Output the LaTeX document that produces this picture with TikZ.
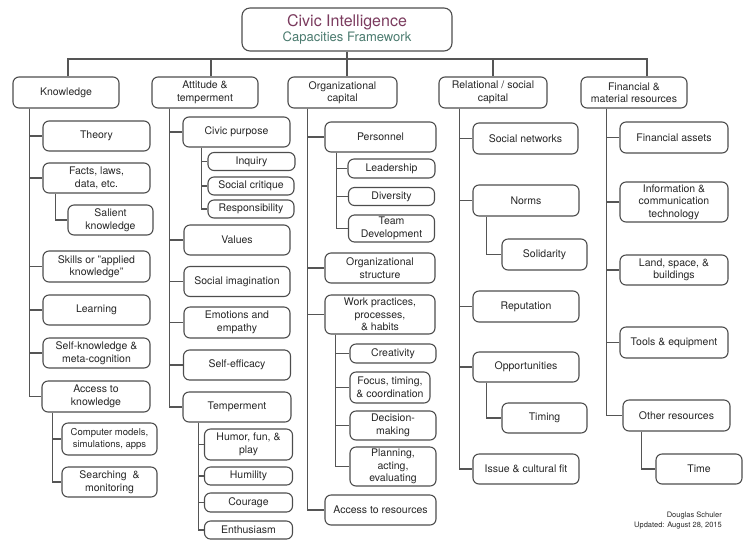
\documentclass[tikz,border=0pt]{standalone}
\usepackage{fontspec}
\setmainfont{TeX Gyre Heros}
\usepackage{tikz}
\definecolor{civicred}{HTML}{7B3B5E}
\definecolor{civicgreen}{HTML}{4A7A6E}
\definecolor{boxgray}{HTML}{4D4D4D}
\definecolor{linegray}{HTML}{555555}
\definecolor{txtgray}{HTML}{262626}
\tikzset{box/.style={draw=boxgray, line width=1.1pt, rounded corners=6pt, align=center,
  inner sep=1pt, text=txtgray, font=\fontsize{10.5}{12.5}\selectfont,
  minimum width=106, minimum height=30}}
\tikzset{small/.style={box, minimum width=86, minimum height=18}}
\tikzset{link/.style={draw=linegray, line width=1.1pt}}

\begin{document}
\begin{tikzpicture}[x=1pt, y=-1pt]
    \useasboundingbox (0,0) rectangle (746,542);
    % title and top row
    \node[box, minimum width=210, minimum height=43, rounded corners=8pt](title) at (347,29.5)
        {{\fontsize{16}{18}\selectfont\color{civicred}Civic Intelligence}\\
         {\fontsize{13}{16}\selectfont\color{civicgreen}Capacities Framework}};
    \node[box, minimum height=31](know) at (66,92.5){Knowledge};
    \node[box, minimum height=31](att) at (205,92.5){Attitude \&\\temperment};
    \node[box, minimum width=109, minimum height=31](org) at (342.5,92.5){Organizational\\capital};
    \node[box, minimum width=108, minimum height=31](rel) at (493,92.5){Relational / social\\capital};
    \node[box, minimum height=31](fin) at (634,92.5){Financial \&\\material resources};
    \coordinate (bus) at (347,59);
    \draw[link](title.south)--(title.south |- org.north);
    \draw[link]([xshift=2]know.north)|-(bus);
    \draw[link]([xshift=6]att.north)|-(bus);
    \draw[link](rel.north)|-(bus);
    \draw[link]([xshift=13]fin.north)|-(bus);

    % knowledge
    \node[box, minimum width=107](theory) at (96.5,136){Theory};
    \node[box, minimum width=107](facts) at (96.5,178){Facts, laws,\\data, etc.};
    \node[box, minimum width=85](salient) at (110.5,220){Salient\\knowledge};
    \node[box, minimum width=107, minimum height=31](skills) at (96.5,266.5){Skills or "applied\\knowledge"};
    \node[box, minimum width=107](learning) at (96.5,310){Learning};
    \node[box, minimum width=107](selfk) at (96.5,353){Self-knowledge \&\\meta-cognition};
    \node[box, minimum width=108, minimum height=31](access) at (96,396.5){Access to\\knowledge};
    \node[box, minimum width=95, minimum height=32, font=\fontsize{9.5}{11.5}\selectfont](models) at (109.5,439)
        {Computer models,\\simulations, apps};
    \node[box, minimum width=95](search) at (109.5,482){Searching \ \&\\monitoring};
    \draw[link]([xshift=17]know.south west)|-(theory.west);
    \draw[link]([xshift=17]know.south west)|-(facts.west);
    \draw[link]([xshift=17]know.south west)|-(skills.west);
    \draw[link]([xshift=17]know.south west)|-(learning.west);
    \draw[link]([xshift=17]know.south west)|-(selfk.west);
    \draw[link]([xshift=17]know.south west)|-(access.west);
    \draw[link]([xshift=13]facts.south west)|-(salient.west);
    \draw[link]([xshift=11]access.south west)|-(models.west);
    \draw[link]([xshift=11]access.south west)|-(search.west);

    % attitude
    \node[box, minimum width=107](civic) at (236.5,132){Civic purpose};
    \node[small, minimum width=87](inquiry) at (251.5,161.5){Inquiry};
    \node[small](critique) at (251,186){Social critique};
    \node[small](respons) at (251,209){Responsibility};
    \node[box](values) at (237,240){Values};
    \node[box](imag) at (237,281.5){Social imagination};
    \node[box, minimum height=31](emotions) at (237,322.5){Emotions and\\empathy};
    \node[box, minimum width=107](efficacy) at (237,365){Self-efficacy};
    \node[box, minimum width=108](temper) at (237,407){Temperment};
    \node[box, minimum width=88, minimum height=31](humor) at (248.5,444.5){Humor, fun, \&\\play};
    \node[small, minimum width=88](humility) at (248.5,476){Humility};
    \node[small, minimum width=88, minimum height=19](courage) at (248.5,502.5){Courage};
    \node[small, minimum width=88](enthus) at (248.5,530){Enthusiasm};
    \draw[link]([xshift=18]att.south west)|-(civic.west);
    \draw[link]([xshift=18]att.south west)|-(values.west);
    \draw[link]([xshift=18]att.south west)|-(imag.west);
    \draw[link]([xshift=18]att.south west)|-(emotions.west);
    \draw[link]([xshift=18]att.south west)|-(efficacy.west);
    \draw[link]([xshift=18]att.south west)|-(temper.west);
    \draw[link]([xshift=19]civic.south west)|-(inquiry.west);
    \draw[link]([xshift=19]civic.south west)|-(critique.west);
    \draw[link]([xshift=19]civic.south west)|-(respons.west);
    \draw[link]([xshift=16]temper.south west)|-(humor.west);
    \draw[link]([xshift=16]temper.south west)|-(humility.west);
    \draw[link]([xshift=16]temper.south west)|-(courage.west);
    \draw[link]([xshift=16]temper.south west)|-(enthus.west);

    % organizational capital
    \node[box, minimum width=111](personnel) at (380.5,137){Personnel};
    \node[small, minimum width=87, minimum height=19](leader) at (391.5,168.5){Leadership};
    \node[small](diversity) at (391.5,196.5){Diversity};
    \node[small, minimum height=27](team) at (391.5,228.5){Team\\Development};
    \node[box, minimum width=110](orgstruct) at (380,268){Organizational\\structure};
    \node[box, minimum width=110, minimum height=39](work) at (380,314.5){Work practices,\\processes,\\\& habits};
    \node[small, minimum height=19](creat) at (393,353.5){Creativity};
    \node[small, minimum width=80, minimum height=31](focus) at (390,387.5){Focus, timing,\\\& coordination};
    \node[small, minimum height=29](decision) at (393,425.5){Decision-\\making};
    \node[small, minimum height=39](planning) at (393,466.5){Planning,\\acting,\\evaluating};
    \node[box, minimum width=111](accres) at (380.5,510){Access to resources};
    \draw[link]([xshift=20]org.south west)|-(personnel.west);
    \draw[link]([xshift=20]org.south west)|-(orgstruct.west);
    \draw[link]([xshift=20]org.south west)|-(work.west);
    \draw[link]([xshift=20]org.south west)|-(accres.west);
    \draw[link]([xshift=12]personnel.south west)|-(leader.west);
    \draw[link]([xshift=12]personnel.south west)|-(diversity.west);
    \draw[link]([xshift=12]personnel.south west)|-(team.west);
    \draw[link]([xshift=11]work.south west)|-(creat.west);
    \draw[link]([xshift=11]work.south west)|-(focus.west);
    \draw[link]([xshift=11]work.south west)|-(decision.west);
    \draw[link]([xshift=11]work.south west)|-(planning.west);

    % relational / social capital
    \node[box, minimum width=105, minimum height=31](socnet) at (525.5,138.5){Social networks};
    \node[box, minimum height=31](norms) at (526,200.5){Norms};
    \node[box, minimum width=85, minimum height=31](solid) at (544.5,254.5){Solidarity};
    \node[box, minimum height=31](reput) at (526,306.5){Reputation};
    \node[box](opport) at (526,367){Opportunities};
    \node[box, minimum width=85](timing) at (544.5,418){Timing};
    \node[box](issue) at (526,469){Issue \& cultural fit};
    \draw[link]([xshift=21]rel.south west)|-(socnet.west);
    \draw[link]([xshift=21]rel.south west)|-(norms.west);
    \draw[link]([xshift=21]rel.south west)|-(reput.west);
    \draw[link]([xshift=21]rel.south west)|-(opport.west);
    \draw[link]([xshift=21]rel.south west)|-(issue.west);
    \draw[link]([xshift=14]norms.south west)|-(solid.west);
    \draw[link]([xshift=14]opport.south west)|-(timing.west);

    % financial & material resources
    \node[box, minimum width=108, minimum height=31](finassets) at (674,137.5){Financial assets};
    \node[box, minimum width=108, minimum height=40](ict) at (674,202){Information \&\\communication\\technology};
    \node[box, minimum width=108](land) at (674,270){Land, space, \&\\buildings};
    \node[box, minimum width=108, minimum height=31](tools) at (674,342.5){Tools \& equipment};
    \node[box, minimum width=107, minimum height=31](other) at (676.5,415.5){Other resources};
    \node[box, minimum width=86](time) at (699,469){Time};
    \draw[link]([xshift=26]fin.south west)|-(finassets.west);
    \draw[link]([xshift=26]fin.south west)|-(ict.west);
    \draw[link]([xshift=26]fin.south west)|-(land.west);
    \draw[link]([xshift=26]fin.south west)|-(tools.west);
    \draw[link]([xshift=26]fin.south west)|-(other.west);
    \draw[link]([xshift=19]other.south west)|-(time.west);

    \node[anchor=north east, align=right, inner sep=0pt, text=txtgray,
        font=\fontsize{7.5}{10}\selectfont](credit) at (722,512){Douglas Schuler\\Updated: August 28, 2015};
\end{tikzpicture}
\end{document}
